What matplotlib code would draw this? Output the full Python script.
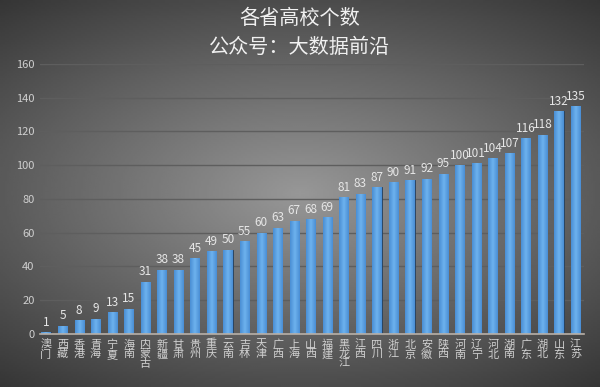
import numpy as np
import matplotlib
matplotlib.use("Agg")
import matplotlib.pyplot as plt
from matplotlib.colors import LinearSegmentedColormap

plt.rcParams['font.family'] = ['Noto Sans CJK SC', 'DejaVu Sans']

# 数据
provinces = ["澳门", "西藏", "香港", "青海", "宁夏", "海南", "内蒙古", "新疆", "甘肃",
             "贵州", "重庆", "云南", "吉林", "天津", "广西", "上海", "山西", "福建",
             "黑龙江", "江西", "四川", "浙江", "北京", "安徽", "陕西", "河南", "辽宁",
             "河北", "湖南", "广东", "湖北", "山东", "江苏"]
counts = [1, 5, 8, 9, 13, 15, 31, 38, 38, 45, 49, 50, 55, 60, 63, 67, 68, 69,
          81, 83, 87, 90, 91, 92, 95, 100, 101, 104, 107, 116, 118, 132, 135]
yticks = [0, 20, 40, 60, 80, 100, 120, 140, 160]

fig = plt.figure(figsize=(6, 3.87), dpi=100)

# 背景渐变
bg = fig.add_axes([0, 0, 1, 1])
yy, xx = np.mgrid[-1:1:200j, -1:1:300j]
r = np.sqrt((xx * 0.9) ** 2 + (yy * 1.1) ** 2)
bg.imshow(-r, cmap="gray", vmin=-2.2, vmax=1.5, aspect="auto", extent=[0, 1, 0, 1])
bg.axis("off")

ax = fig.add_axes([0.067, 0.137, 0.906, 0.698])
ax.patch.set_alpha(0)
x = np.arange(len(counts))
bars = ax.bar(x, counts, width=0.55, color="#5aa0e2", edgecolor="#223a55", linewidth=0.6, zorder=3)

# 柱子横向渐变
cmap = LinearSegmentedColormap.from_list("b", ["#4a8ed4", "#6db2ee", "#4a8ed4"])
grad = np.linspace(0, 1, 50).reshape(1, -1)
for b in bars:
    x0, w, h = b.get_x(), b.get_width(), b.get_height()
    im = ax.imshow(grad, cmap=cmap, aspect="auto", extent=[x0, x0 + w, 0, h], zorder=3.5)
    im.set_clip_path(b)

for xi, v in zip(x, counts):
    ax.text(xi, v + 2, str(v), ha="center", va="bottom", color="#e6e6e6", fontsize=8.5, zorder=5)

ax.set_xlim(-0.35, len(counts) - 0.5)
ax.set_ylim(0, 160)
ax.set_yticks(yticks)
ax.set_yticklabels([str(t) for t in yticks], color="#cfcfcf", fontsize=8)
ax.grid(axis="y", color="#5e5e5e", linewidth=1, zorder=0)
ax.set_xticks(x)
ax.set_xticklabels(["\n".join(p) for p in provinces], color="#d0d0d0", fontsize=8,
                   linespacing=0.95, va="top")
ax.tick_params(length=0, pad=4)
for s in ["top", "right", "left"]:
    ax.spines[s].set_visible(False)
ax.spines["bottom"].set_color("#b8b0a8")
ax.spines["bottom"].set_linewidth(1.2)
ax.spines["bottom"].set_zorder(6)

fig.text(0.5, 0.953, "各省高校个数", ha="center", va="center", color="#f0f0f0", fontsize=14.5)
fig.text(0.5, 0.878, "公众号：大数据前沿", ha="center", va="center", color="#f0f0f0", fontsize=14.5)

fig.savefig("out.png", dpi=100)
